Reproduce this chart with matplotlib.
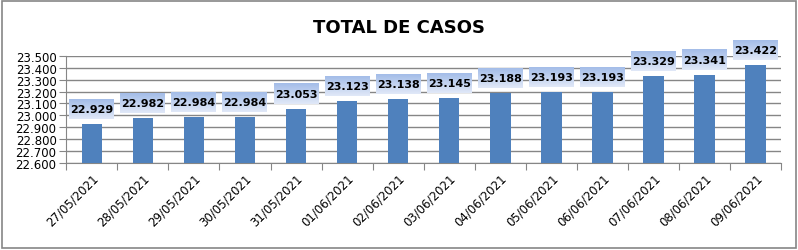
import numpy as np
import matplotlib.pyplot as plt
from matplotlib.patches import Rectangle

# datos del gráfico
fechas = ['27/05/2021', '28/05/2021', '29/05/2021', '30/05/2021', '31/05/2021',
          '01/06/2021', '02/06/2021', '03/06/2021', '04/06/2021', '05/06/2021',
          '06/06/2021', '07/06/2021', '08/06/2021', '09/06/2021']
casos = [22929, 22982, 22984, 22984, 23053, 23123, 23138, 23145,
         23188, 23193, 23193, 23329, 23341, 23422]
yticks = [22600, 22700, 22800, 22900, 23000, 23100, 23200, 23300, 23400, 23500]


def fmt(v):
    # separador de miles con punto
    return f"{v:,}".replace(',', '.')


plt.rcParams['font.family'] = ['DejaVu Sans']

fig = plt.figure(figsize=(7.98, 2.51), dpi=100)
fig.patches.append(Rectangle((0.003, 0.006), 0.994, 0.988, transform=fig.transFigure,
                             fill=False, edgecolor='#868686', linewidth=1.2))

ax = fig.add_axes([0.083, 0.347, 0.896, 0.426])
x = np.arange(len(fechas))
ax.bar(x, casos, width=0.4, color='#4f81bd', zorder=3)

ax.set_ylim(22600, 23500)
ax.set_xlim(-0.5, len(fechas) - 0.5)
ax.set_yticks(yticks)
ax.set_yticklabels([fmt(v) for v in yticks], fontsize=8.5)
ax.yaxis.grid(True, color='#868686', linewidth=1)
ax.set_axisbelow(True)

ax.set_xticks(np.arange(len(fechas) + 1) - 0.5, minor=False)
ax.set_xticklabels([])
ax.set_xticks(x, minor=True)
ax.set_xticklabels(fechas, minor=True, rotation=45, ha='right',
                   rotation_mode='anchor', fontsize=8.5)
ax.tick_params(axis='x', which='minor', length=0, pad=6)
ax.tick_params(axis='x', which='major', length=5, color='#868686')
ax.tick_params(axis='y', length=5, color='#868686', pad=2)

for s in ['top', 'right']:
    ax.spines[s].set_visible(False)
for s in ['left', 'bottom']:
    ax.spines[s].set_color('#868686')

# etiquetas con fondo degradado (45x20 px, centro 15 px sobre la barra)
grad = np.linspace(0, 1, 64).reshape(-1, 1)
top_c = np.array([0.64, 0.74, 0.91])
bot_c = np.array([0.88, 0.91, 0.97])
img = top_c[None, None, :] * (1 - grad[:, :, None]) + bot_c[None, None, :] * grad[:, :, None]
inv = ax.transData.inverted()
for xi, v in zip(x, casos):
    px, py = ax.transData.transform((xi, v))
    cy = py + 15
    (x0, y0) = inv.transform((px - 22.5, cy - 10))
    (x1, y1) = inv.transform((px + 22.5, cy + 10))
    ax.imshow(img, extent=(x0, x1, y0, y1), aspect='auto', zorder=4,
              clip_on=False, interpolation='bilinear')
    ax.text(xi, (y0 + y1) / 2, fmt(v), ha='center', va='center', fontsize=8,
            fontweight='bold', zorder=5, clip_on=False)

ax.set_xlim(-0.5, len(fechas) - 0.5)
ax.set_ylim(22600, 23500)

fig.text(0.5, 0.89, 'TOTAL DE CASOS', ha='center', va='center',
         fontsize=13, fontweight='bold')

fig.savefig('out.png', dpi=100)
